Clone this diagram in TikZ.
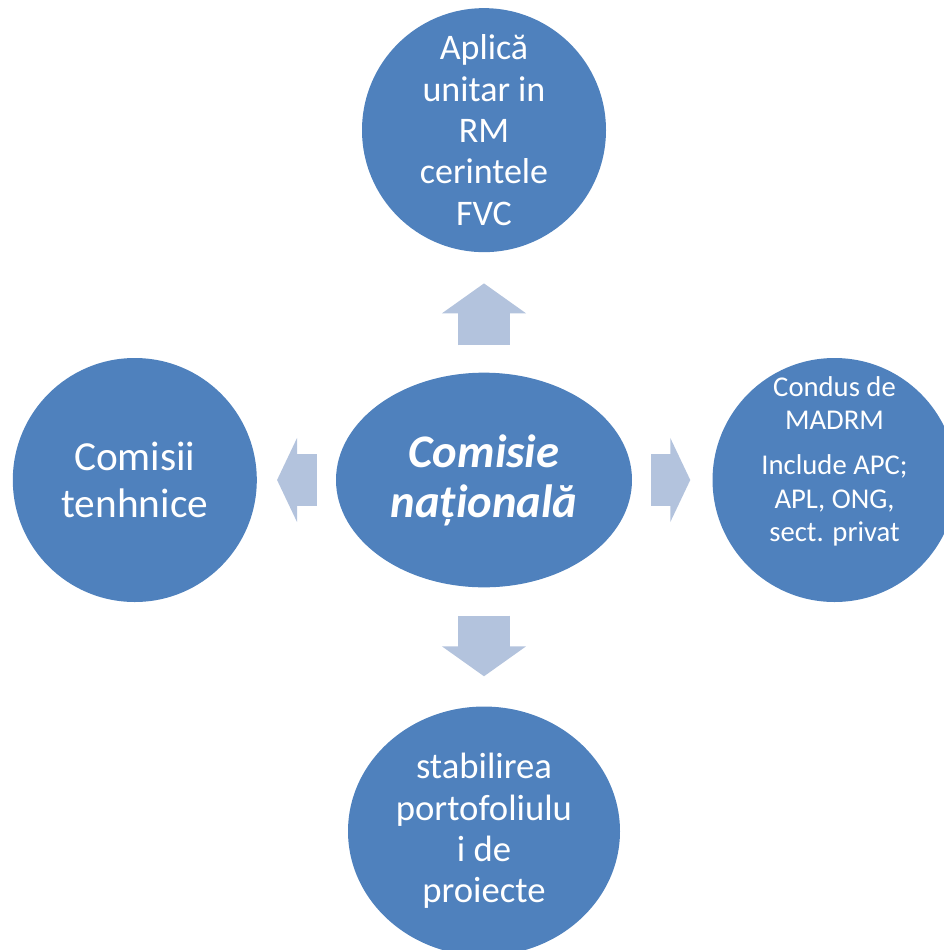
\documentclass[tikz,border=0pt]{standalone}
\usepackage{fontspec}
\setmainfont{Carlito}
\usetikzlibrary{arrows.meta,positioning,shapes.geometric}
\definecolor{bubble}{RGB}{79,129,189}
\definecolor{pale}{RGB}{179,195,221}
\tikzset{
    bubble/.style = {
        fill = bubble,
        text = white,
        align = center,
        inner sep = 0pt,
        },
    round/.style = {
        bubble,
        circle,
        minimum size = 183pt,
        },
    oval/.style = {
        bubble,
        ellipse,
        },
    block arrow/.style = {
        draw = pale,
        line width = 39pt,
        line cap = butt,
        -{Triangle[length=#1 0 0, width=63pt 0 0, line width=1.5pt 0 0]},
        },
}

\begin{document}
\begin{tikzpicture}[x=0.75pt, y=-0.75pt]
            \useasboundingbox (0,0) rectangle (943,950);

            \node[oval, minimum width=222pt, minimum height=161pt,
                  font=\fontsize{35}{37.5}\selectfont\bfseries\itshape] (centre) at (484,480) {Comisie\\național\u{a}};
            \node[round, above=90pt of centre,
                  font=\fontsize{27}{31}\selectfont] (aplica) {Aplic\u{a}\\unitar in\\RM\\cerintele\\FVC};
            \node[round, left=59pt of centre,
                  font=\fontsize{31}{35}\selectfont] (tehnice) {Comisii\\tenhnice};
            \node[round, right=60pt of centre] (madrm) {};
            \node[text=white, align=center, inner sep=0pt,
                  font=\fontsize{21.5}{25}\selectfont] (madrm text) at ([yshift=14pt]madrm.center)
                  {Condus de\\MADRM\\[9pt]Include APC;\\APL, ONG,\\sect. privat};
            \node[oval, minimum width=204pt, minimum height=187pt, below=89pt of centre,
                  font=\fontsize{27.5}{31}\selectfont] (portofoliu) {stabilirea\\portofoliulu\\i de\\proiecte};

            %\draw[->] (centre) -- (aplica);
            \draw[block arrow=22.5pt, shorten <=20.25pt, shorten >=23.25pt] (centre) -- (aplica);
            \draw[block arrow=22.5pt, shorten <=21pt, shorten >=22.5pt] (centre) -- (portofoliu);
            \draw[block arrow=15pt, shorten <=14.25pt, shorten >=15pt] (centre) -- (tehnice);
            \draw[block arrow=15pt, shorten <=14.25pt, shorten >=16.5pt] (centre) -- (madrm);
        \end{tikzpicture}
\end{document}
